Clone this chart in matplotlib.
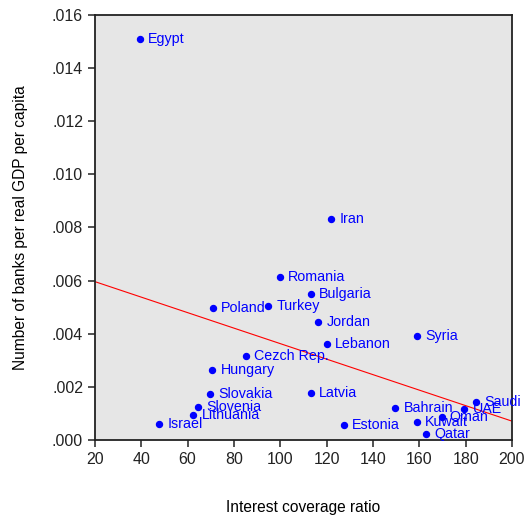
import numpy as np
import matplotlib.pyplot as plt

plt.rcParams['font.family'] = ['Liberation Sans', 'DejaVu Sans']

countries = ['Egypt', 'Iran', 'Romania', 'Bulgaria', 'Turkey', 'Poland', 'Jordan',
             'Syria', 'Lebanon', 'Cezch Rep.', 'Hungary', 'Slovakia', 'Latvia',
             'Slovenia', 'Lithuania', 'Israel', 'Estonia', 'Bahrain', 'Kuwait',
             'Qatar', 'Oman', 'UAE', 'Saudi']
coverage = [39.4, 121.9, 99.8, 113.2, 94.8, 70.8, 116.4,
            158.8, 120.0, 85.2, 70.6, 69.8, 113.2,
            64.6, 62.4, 47.8, 127.5, 149.6, 158.8,
            163.0, 169.6, 179.5, 184.6]
banks = [0.01510, 0.00832, 0.00614, 0.00549, 0.00506, 0.00496, 0.00444,
         0.00392, 0.00360, 0.00318, 0.00262, 0.00172, 0.00178,
         0.00124, 0.00094, 0.00059, 0.00056, 0.00121, 0.00067,
         0.00024, 0.00085, 0.00117, 0.00142]

x = np.array(coverage)
y = np.array(banks)

# least squares line
slope, icept = np.polyfit(x, y, 1)
xl = np.array([20, 200])

fig = plt.figure(figsize=(5.27, 5.17), dpi=100)
ax = fig.add_axes([0.180, 0.149, 0.7915, 0.822])
ax.set_facecolor('#e6e6e6')

ax.plot(x, y, 'o', color='blue', markersize=4.3)
for name, xi, yi in zip(countries, x, y):
    ax.annotate(name, (xi, yi), xytext=(6, 0), textcoords='offset points',
                va='center', ha='left', color='blue', fontsize=10.3)
ax.plot(xl, icept + slope * xl, color='red', linewidth=0.8)

ax.set_xlim(20, 200)
ax.set_ylim(0, 0.016)
ax.set_xticks(np.arange(20, 201, 20))
yt = np.arange(0, 0.0161, 0.002)
ax.set_yticks(yt)
ax.set_yticklabels(['.%03d' % round(v * 1000) for v in yt])
ax.tick_params(direction='out', length=5, width=1.1, labelsize=11.5,
               top=False, right=False, colors='#222222')
for s in ax.spines.values():
    s.set_linewidth(1.3)
    s.set_color('#222222')

ax.set_xlabel('Interest coverage ratio', fontsize=11.2, labelpad=24)
ax.set_ylabel('Number of banks per real GDP per capita', fontsize=11.2, labelpad=17)

fig.savefig('out.png', dpi=100)
